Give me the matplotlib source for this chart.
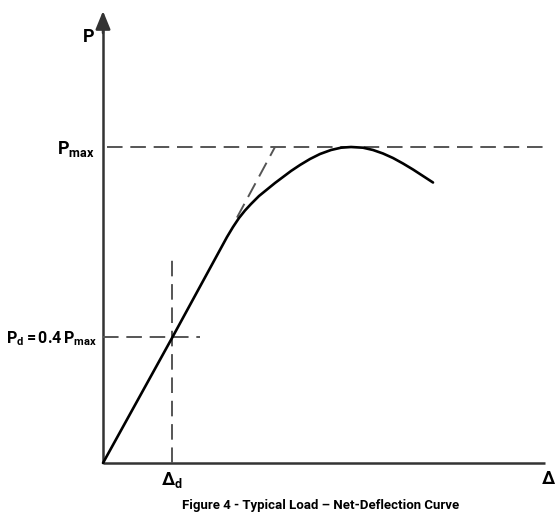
import matplotlib.pyplot as plt

label_font = 'Roboto'
plt.rcParams['mathtext.fontset'] = 'custom'
plt.rcParams['mathtext.rm'] = label_font + ':bold'
plt.rcParams['mathtext.bf'] = label_font + ':bold'
plt.rcParams['mathtext.it'] = label_font + ':bold'

# load / deflection curve (deflection, load), same units on both axes
delta = [0, 69, 124, 130, 136, 142, 148, 156, 164, 172, 180, 188, 197, 207, 217,
         228, 238, 248, 260, 270, 280, 290, 300, 310, 320, 330]
load = [0, 125, 226, 236, 245, 252.5, 259, 267, 273.5, 280, 286, 292, 298, 304,
        309, 313, 315.3, 316, 315.3, 313, 309.5, 305, 299.5, 293.5, 287, 280.5]

p_max = 316
p_d = 0.4 * p_max
delta_d = 69
tangent_start = 134
tangent_top = 172          # where the initial tangent reaches Pmax

caption = 'Figure 4 - Typical Load \u2013 Net-Deflection Curve'

fig = plt.figure(figsize=(5.56, 5.17), dpi=100)
ax = fig.add_axes([0, 0, 1, 1])
ax.set_xlim(-103, 453)
ax.set_ylim(-54, 463)
ax.axis('off')

axis_col = '#333333'
dash_col = '#555555'

# axis lines, then the arrow heads on their ends
ax.plot([0, 0], [0, 440], color=axis_col, lw=1.8, solid_capstyle='butt')
ax.plot([0, 442], [0, 0], color=axis_col, lw=1.8, solid_capstyle='butt')
head = dict(arrowstyle='-|>,head_length=1.1,head_width=0.45',
            color=axis_col, lw=1.8, shrinkA=0, shrinkB=0)
ax.annotate('', xy=(0, 452), xytext=(0, 430), arrowprops=head)
ax.annotate('', xy=(454, 0), xytext=(430, 0), arrowprops=head)

dash = dict(color=dash_col, lw=1.4, dashes=(8, 4))
ax.plot([4, 442], [p_max, p_max], **dash)
ax.plot([0, 97], [p_d, p_d], **dash)
ax.plot([delta_d, delta_d], [0, 205], **dash)
ax.plot([tangent_start, tangent_top], [tangent_start * p_d / delta_d, p_max], **dash)

ax.plot(delta, load, color='black', lw=1.9, solid_capstyle='round')

ax.text(-9, 426, 'P', fontsize=13, fontweight='bold', family=label_font,
        ha='right', va='center')
ax.text(-8, p_max - 2, r'$\mathbf{P}_{\mathbf{max}}$', fontsize=13,
        ha='right', va='center')
ax.text(-6, p_d - 2, r'$\mathbf{P}_{\mathbf{d}}\mathbf{=0.4\,P}_{\mathbf{max}}$',
        fontsize=11.5, ha='right', va='center')
ax.text(delta_d, -17, r'$\mathbf{\Delta}_{\mathbf{d}}$', fontsize=13,
        ha='center', va='center')
ax.text(446, -16, r'$\mathbf{\Delta}$', fontsize=13, ha='center', va='center')

ax.text(218, -42, caption, fontsize=9.5, fontweight='bold', family=label_font,
        ha='center', va='center')

fig.savefig('out.png', dpi=100)
